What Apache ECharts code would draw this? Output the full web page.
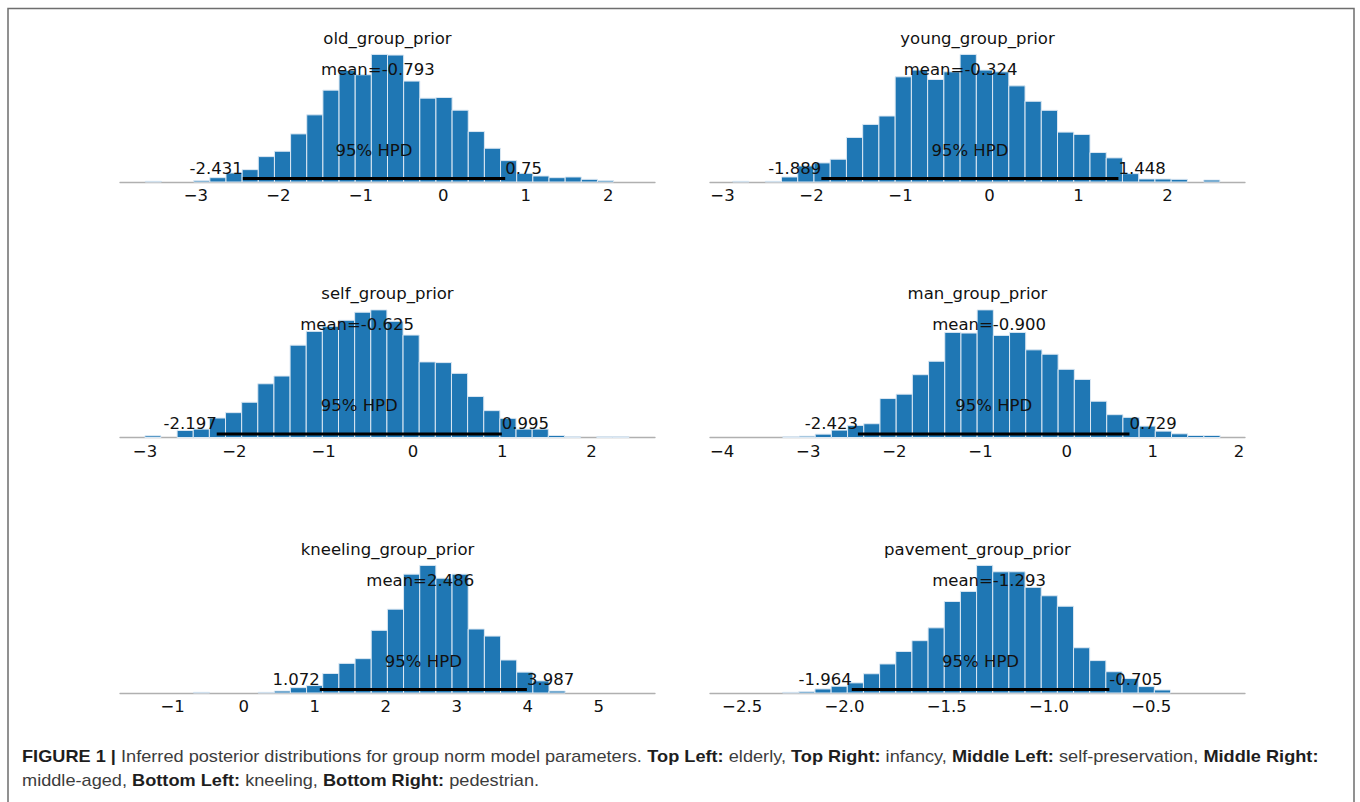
<!DOCTYPE html>
<html>
<head>
<meta charset="utf-8">
<script src="https://cdn.jsdelivr.net/npm/echarts@6.0.0/dist/echarts.min.js"></script>
<style>
  html, body { margin: 0; padding: 0; background: #ffffff; }
  #chart { width: 1360px; height: 802px; }
</style>
</head>
<body>
<div id="chart"></div>
<script>
// ---- Posterior samples, binned (counts per bin) ----
const panelTitles = ['old_group_prior', 'young_group_prior', 'self_group_prior',
                     'man_group_prior', 'kneeling_group_prior', 'pavement_group_prior'];

const oldCounts      = [2,0,0,4,13,27,37,76,92,144,201,275,334,321,382,380,302,251,253,215,151,101,64,26,18,13,15,8,4];
const youngCounts    = [2,0,2,15,48,57,68,133,172,197,314,334,306,329,381,334,329,287,241,214,149,142,88,72,25,9,9,8,0,6];
const selfCounts     = [5,0,21,25,58,74,105,160,183,275,316,331,349,373,380,346,305,225,223,191,122,80,57,25,25,6,2,0,2,2];
const manCounts      = [2,4,10,22,36,41,116,129,187,227,313,311,380,304,313,261,248,203,173,108,68,60,34,19,11,6,6];
const kneelingCounts = [2,0,0,0,2,6,16,22,58,88,102,186,249,353,379,341,353,190,169,98,62,36,6];
const pavementCounts = [2,4,12,20,30,57,86,123,155,193,271,301,378,359,359,313,288,257,134,96,63,43,19,9];

// left edge of the first bin and bin width for each parameter
const binStarts = [-3.614, -2.884, -3.002, -3.295, -0.7065, -2.302];
const binWidths = [0.1958, 0.1824, 0.1807, 0.188, 0.2275, 0.079];

// posterior summaries
const posteriorMeans = [-0.793, -0.324, -0.625, -0.900, 2.486, -1.293];
const hpdLower       = [-2.431, -1.889, -2.197, -2.423, 1.072, -1.964];
const hpdUpper       = [0.75, 1.448, 0.995, 0.729, 3.987, -0.705];

// x-axis limits and tick labels
const axisMin = [-3.92, -3.14, -3.28, -4.14, -1.74, -2.657];
const axisMax = [2.566, 2.87, 2.71, 2.07, 5.79, -0.042];
const tickValues = [
  [-3, -2, -1, 0, 1, 2],
  [-3, -2, -1, 0, 1, 2],
  [-3, -2, -1, 0, 1, 2],
  [-4, -3, -2, -1, 0, 1, 2],
  [-1, 0, 1, 2, 3, 4, 5],
  [-2.5, -2.0, -1.5, -1.0, -0.5]
];
const tickDecimals = [0, 0, 0, 0, 0, 1];

const captionLines = [
  [['FIGURE 1 |', true], [' Inferred posterior distributions for group norm model parameters. ', false],
   ['Top Left:', true], [' elderly, ', false], ['Top Right:', true], [' infancy, ', false],
   ['Middle Left:', true], [' self-preservation, ', false], ['Middle Right:', true]],
  [['middle-aged, ', false], ['Bottom Left:', true], [' kneeling, ', false],
   ['Bottom Right:', true], [' pedestrian.', false]]
];

// ---- layout ----
const allCounts = [oldCounts, youngCounts, selfCounts, manCounts, kneelingCounts, pavementCounts];
const colLeft = [120, 710];
const plotWidth = 535;
const rowBaseline = [182, 437.5, 693];
const plotHeight = 134;
const FONT = '"DejaVu Sans", "Liberation Sans", sans-serif';
const FS = 16.5;
const BAR = '#1f77b4';

function tickFmt(v, d) {
  const s = Math.abs(v).toFixed(d);
  return (v < 0 ? '\u2212' : '') + s;
}

const grids = [], xAxes = [], yAxes = [], series = [], graphics = [];

allCounts.forEach((counts, i) => {
  const col = i % 2, row = Math.floor(i / 2);
  const base = rowBaseline[row];
  grids.push({ left: colLeft[col], top: base - plotHeight, width: plotWidth, height: plotHeight });
  xAxes.push({
    gridIndex: i, type: 'value', min: axisMin[i], max: axisMax[i],
    axisLine: { show: true, onZero: false, lineStyle: { color: '#b0b0b0', width: 1.3 } },
    axisTick: { show: false },
    splitLine: { show: false },
    axisLabel: {
      customValues: tickValues[i],
      formatter: v => tickFmt(v, tickDecimals[i]),
      fontFamily: FONT, fontSize: FS, color: '#111', margin: 5
    }
  });
  yAxes.push({ gridIndex: i, type: 'value', min: 0, max: Math.max(...counts) * 1.05, show: false });

  // histogram bins: [left edge, right edge, count]
  const bins = counts.map((c, k) => [binStarts[i] + k * binWidths[i], binStarts[i] + (k + 1) * binWidths[i], c])
                     .filter(b => b[2] > 0);
  series.push({
    type: 'custom', xAxisIndex: i, yAxisIndex: i, silent: true, clip: false,
    encode: { x: [0, 1], y: 2 },
    data: bins,
    renderItem: (params, api) => {
      const p0 = api.coord([api.value(0), api.value(2)]);
      const p1 = api.coord([api.value(1), 0]);
      return {
        type: 'rect',
        shape: { x: p0[0], y: p0[1], width: p1[0] - p0[0], height: p1[1] - p0[1] },
        style: { fill: BAR, stroke: '#dce8f3', lineWidth: 1 }
      };
    }
  });

  // HPD interval bar and annotations
  series.push({
    type: 'custom', xAxisIndex: i, yAxisIndex: i, silent: true, clip: false, z: 5,
    encode: { x: [0, 1, 2] },
    data: [[hpdLower[i], hpdUpper[i], posteriorMeans[i]]],
    renderItem: (params, api) => {
      const lo = api.value(0), hi = api.value(1), mu = api.value(2);
      const pl = api.coord([lo, 0]), ph = api.coord([hi, 0]);
      const pm = api.coord([mu, 0]), pc = api.coord([(lo + hi) / 2, 0]);
      const y0 = pl[1];
      const txt = (x, y, text, align) => ({
        type: 'text', x: x, y: y,
        style: { text: text, fill: '#111', fontFamily: FONT, fontSize: FS,
                 align: align, verticalAlign: 'middle', textAlign: align, textVerticalAlign: 'middle' }
      });
      return {
        type: 'group',
        children: [
          { type: 'line', shape: { x1: pl[0], y1: y0 - 3.5, x2: ph[0], y2: y0 - 3.5 },
            style: { stroke: '#000', lineWidth: 3 } },
          txt(pl[0], y0 - 14, String(lo), 'right'),
          txt(ph[0], y0 - 14, String(hi), 'left'),
          txt(pc[0], y0 - 32, '95% HPD', 'center'),
          txt(pm[0], y0 - 113, 'mean=' + mu.toFixed(3), 'center')
        ]
      };
    }
  });

  graphics.push({
    type: 'text', x: colLeft[col] + plotWidth / 2, y: base - 144,
    style: { text: panelTitles[i], fill: '#111', fontFamily: FONT, fontSize: FS,
             align: 'center', verticalAlign: 'middle', textAlign: 'center', textVerticalAlign: 'middle' }
  });
});

// ---- caption ----
const CAP_FONT = '"Liberation Sans", Arial, sans-serif';
const CAP_FS = 16;
const measure = document.createElement('canvas').getContext('2d');
function lineWidth(segs) {
  let w = 0;
  segs.forEach(([t, b]) => {
    measure.font = (b ? 'bold ' : '') + CAP_FS + 'px ' + CAP_FONT;
    w += measure.measureText(t).width;
  });
  return w;
}
const line1Target = 1296;
const capScale = line1Target / lineWidth(captionLines[0]);
const capY = [757, 781];
captionLines.forEach((segs, li) => {
  const text = segs.map(([t, b]) => '{' + (b ? 'b' : 'r') + '|' + t.replace(/\|/g, '\uFF5C').replace('\uFF5C', '|') + '}').join('');
  graphics.push({
    type: 'text', x: 22, y: capY[li], scaleX: capScale,
    style: {
      text: segs.map(([t, b]) => '{' + (b ? 'b' : 'r') + '|' + t + '}').join(''),
      verticalAlign: 'middle', textVerticalAlign: 'middle', align: 'left',
      rich: {
        b: { fontFamily: CAP_FONT, fontSize: CAP_FS, fontWeight: 'bold', fill: '#1e1e1e', color: '#1e1e1e' },
        r: { fontFamily: CAP_FONT, fontSize: CAP_FS, fill: '#3c3c3c', color: '#3c3c3c' }
      }
    }
  });
});

// ---- frame ----
graphics.push({
  type: 'rect', shape: { x: 8, y: 8.5, width: 1346, height: 820 },
  style: { fill: null, stroke: '#6e6e6e', lineWidth: 1.5 }, silent: true
});

const chart = echarts.init(document.getElementById('chart'), null, { renderer: 'svg', width: 1360, height: 802 });
chart.setOption({
  backgroundColor: '#ffffff',
  animation: false,
  grid: grids,
  xAxis: xAxes,
  yAxis: yAxes,
  series: series,
  graphic: graphics
});
</script>
</body>
</html>
